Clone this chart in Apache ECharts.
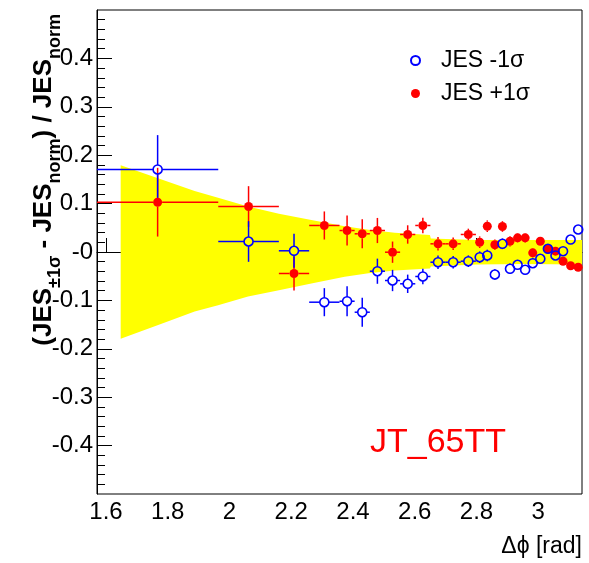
<!DOCTYPE html>
<html>
<head>
<meta charset="utf-8">
<script src="https://cdn.jsdelivr.net/npm/echarts@6/dist/echarts.min.js"></script>
<style>
  html, body { margin: 0; padding: 0; background: #fff; }
  #chart { width: 589px; height: 563px; }
</style>
</head>
<body>
<div id="chart"></div>
<script>
// bin edges in delta-phi (rad): 4 wide bins, 9 of pi/64, 14 of pi/128
var binEdges = [1.5708, 1.9635, 2.1598, 2.2580, 2.3562,
  2.4053, 2.4544, 2.5035, 2.5525, 2.6016, 2.6507, 2.6998, 2.7489, 2.7980,
  2.8225, 2.8471, 2.8716, 2.8962, 2.9207, 2.9452, 2.9698, 2.9943, 3.0189,
  3.0434, 3.0680, 3.0925, 3.1170, 3.1416];

// (JES±1σ - JESnorm) / JESnorm per bin
var jesDown = [0.1705, 0.0217, 0.0025, -0.1037,
  -0.1017, -0.1244, -0.0397, -0.0589, -0.0657, -0.0506, -0.0211, -0.0211, -0.0190,
  -0.0107, -0.0072, -0.0465, 0.0169, -0.0347, -0.0264, -0.0368, -0.0231, -0.0140,
  0.0066, -0.0072, 0.0017, 0.0258, 0.0465];
var jesUp = [0.1029, 0.0940, -0.0444, 0.0548,
  0.0444, 0.0376, 0.0444, -0.0004, 0.0362, 0.0548, 0.0169, 0.0169, 0.0362,
  0.0202, 0.0533, 0.0149, 0.0527, 0.0223, 0.0293, 0.0293, -0.0017, 0.0223,
  0.0066, 0.0017, -0.0190, -0.0285, -0.0314];
var yErr = [0.071, 0.042, 0.035, 0.029,
  0.031, 0.030, 0.026, 0.022, 0.019, 0.016, 0.014, 0.013, 0.012,
  0.012, 0.012, 0.011, 0.011, 0.011, 0.010, 0.010, 0.010, 0.009,
  0.009, 0.009, 0.008, 0.008, 0.008];

// yellow uncertainty band
var bandX  = [1.6475, 1.78, 1.887, 1.963, 2.06, 2.16, 2.265, 2.373, 2.45, 2.535, 2.649, 2.652, 2.80, 2.95, 3.1416];
var bandHi = [0.179, 0.150, 0.126, 0.112, 0.094, 0.079, 0.066, 0.053, 0.046, 0.040, 0.035, 0.028, 0.025, 0.025, 0.025];
var bandLo = [-0.179, -0.148, -0.123, -0.110, -0.092, -0.079, -0.065, -0.051, -0.044, -0.038, -0.034, -0.030, -0.026, -0.025, -0.026];

// axis ticks
var xMajorTicks = [1.6, 1.8, 2, 2.2, 2.4, 2.6, 2.8, 3];
var xTickLabels = ['1.6', '1.8', '2', '2.2', '2.4', '2.6', '2.8', '3'];
var xMinorTicks = [1.65, 1.7, 1.75, 1.85, 1.9, 1.95, 2.05, 2.1, 2.15, 2.25, 2.3, 2.35,
  2.45, 2.5, 2.55, 2.65, 2.7, 2.75, 2.85, 2.9, 2.95, 3.05, 3.1];
var yMajorTicks = [-0.4, -0.3, -0.2, -0.1, 0, 0.1, 0.2, 0.3, 0.4];
var yTickLabels = ['-0.4', '-0.3', '-0.2', '-0.1', '-0', '0.1', '0.2', '0.3', '0.4'];
var yMinorTicks = [-0.48, -0.46, -0.44, -0.42, -0.38, -0.36, -0.34, -0.32, -0.28, -0.26,
  -0.24, -0.22, -0.18, -0.16, -0.14, -0.12, -0.08, -0.06, -0.04, -0.02, 0.02, 0.04,
  0.06, 0.08, 0.12, 0.14, 0.16, 0.18, 0.22, 0.24, 0.26, 0.28, 0.32, 0.34, 0.36, 0.38,
  0.42, 0.44, 0.46, 0.48];

var FONT = '"Liberation Sans", Arial, Helvetica, sans-serif';

(function () {
  var myChart = echarts.init(document.getElementById('chart'));

  function points(vals) {
    return vals.map(function (v, i) {
      return [(binEdges[i] + binEdges[i + 1]) / 2, v];
    });
  }

  // error bars: horizontal = bin width, vertical = ±err, left open round the marker
  function errorBars(vals, color) {
    var gap = 4.5;
    var data = vals.map(function (v, i) {
      return [(binEdges[i] + binEdges[i + 1]) / 2, v, binEdges[i], binEdges[i + 1], yErr[i]];
    });
    return {
      type: 'custom',
      silent: true,
      clip: true,
      z: 3,
      data: data,
      renderItem: function (params, api) {
        var y = api.value(1), e = api.value(4);
        var c = api.coord([api.value(0), y]);
        var l = api.coord([api.value(2), y]);
        var r = api.coord([api.value(3), y]);
        var t = api.coord([api.value(0), y + e]);
        var b = api.coord([api.value(0), y - e]);
        var st = { stroke: color, lineWidth: 1.5 };
        var kids = [];
        if (c[0] - gap > l[0]) kids.push({ type: 'line', shape: { x1: l[0], y1: c[1], x2: c[0] - gap, y2: c[1] }, style: st });
        if (r[0] > c[0] + gap) kids.push({ type: 'line', shape: { x1: c[0] + gap, y1: c[1], x2: r[0], y2: c[1] }, style: st });
        if (c[1] - gap > t[1]) kids.push({ type: 'line', shape: { x1: c[0], y1: t[1], x2: c[0], y2: c[1] - gap }, style: st });
        if (b[1] > c[1] + gap) kids.push({ type: 'line', shape: { x1: c[0], y1: c[1] + gap, x2: c[0], y2: b[1] }, style: st });
        return { type: 'group', children: kids };
      }
    };
  }

  // minor tick axis (no line, no visible labels)
  function minorAxis(pos, min, max, ticks, len) {
    return {
      type: 'value', position: pos, min: min, max: max,
      axisLine: { show: false },
      axisTick: { show: true, inside: true, length: len, customValues: ticks, lineStyle: { color: '#000' } },
      axisLabel: { show: true, customValues: ticks, formatter: function () { return ''; } },
      splitLine: { show: false }
    };
  }

  var option = {
    animation: false,
    grid: {
      left: 97, right: 7, top: 10, bottom: 69,
      show: true, borderColor: '#000', borderWidth: 1, backgroundColor: 'transparent'
    },
    legend: {
      orient: 'vertical',
      left: 405, top: 44,
      itemGap: 10, itemWidth: 9, itemHeight: 9,
      textStyle: { fontFamily: FONT, fontSize: 23, color: '#000', padding: [0, 0, 0, 16] },
      data: ['JES -1σ', 'JES +1σ']
    },
    xAxis: [{
      type: 'value', position: 'bottom', min: 1.5708, max: 3.1416,
      axisLine: { show: true, lineStyle: { color: '#000', width: 1 } },
      axisTick: { show: true, inside: true, length: 14, customValues: xMajorTicks, lineStyle: { color: '#000' } },
      axisLabel: {
        customValues: xMajorTicks, margin: 6, color: '#000', fontFamily: FONT, fontSize: 24,
        formatter: function (v) { return xTickLabels[xMajorTicks.indexOf(v)]; }
      },
      splitLine: { show: false }
    }, minorAxis('bottom', 1.5708, 3.1416, xMinorTicks, 7)],
    yAxis: [{
      type: 'value', position: 'left', min: -0.5, max: 0.5,
      axisLine: { show: true, lineStyle: { color: '#000', width: 1 } },
      axisTick: { show: true, inside: true, length: 15, customValues: yMajorTicks, lineStyle: { color: '#000' } },
      axisLabel: {
        customValues: yMajorTicks, margin: 4, color: '#000', fontFamily: FONT, fontSize: 24,
        formatter: function (v) { return yTickLabels[yMajorTicks.indexOf(v)]; }
      },
      splitLine: { show: false }
    }, minorAxis('left', -0.5, 0.5, yMinorTicks, 8)],
    graphic: [
      {
        type: 'text', x: 44, y: 14, rotation: Math.PI / 2,
        style: {
          text: '{b|(JES}{s|±1σ}{b| - JES}{s|norm}{b|) / JES}{s|norm}',
          align: 'right', verticalAlign: 'middle',
          rich: {
            b: { fontFamily: FONT, fontSize: 26, fontWeight: 'bold', fill: '#000', lineHeight: 40, verticalAlign: 'middle' },
            s: { fontFamily: FONT, fontSize: 18, fontWeight: 'bold', fill: '#000', verticalAlign: 'bottom' }
          }
        }
      },
      {
        type: 'text', right: 7, top: 535,
        style: { text: 'Δϕ [rad]', fill: '#000', font: '23px ' + FONT }
      },
      {
        type: 'text', left: 370, top: 426,
        style: { text: 'JT_65TT', fill: '#ff0000', font: '34px ' + FONT }
      }
    ],
    series: [
      {
        type: 'custom',
        silent: true,
        z: 1,
        data: bandX.map(function (x, i) { return [x, bandLo[i], bandHi[i]]; }),
        renderItem: function (params, api) {
          if (params.dataIndex !== 0) return;
          var pts = [], i;
          for (i = 0; i < bandX.length; i++) pts.push(api.coord([bandX[i], bandHi[i]]));
          for (i = bandX.length - 1; i >= 0; i--) pts.push(api.coord([bandX[i], bandLo[i]]));
          return { type: 'polygon', shape: { points: pts }, style: { fill: '#ffff00' } };
        }
      },
      errorBars(jesUp, '#ff0000'),
      errorBars(jesDown, '#0000ff'),
      {
        name: 'JES +1σ',
        type: 'scatter',
        symbol: 'circle',
        symbolSize: 9,
        z: 4,
        itemStyle: { color: '#ff0000', opacity: 1 },
        data: points(jesUp)
      },
      {
        name: 'JES -1σ',
        type: 'scatter',
        symbol: 'circle',
        symbolSize: 9,
        z: 5,
        itemStyle: { color: 'rgba(0,0,0,0)', borderColor: '#0000ff', borderWidth: 1.6, opacity: 1 },
        data: points(jesDown)
      }
    ]
  };

  myChart.setOption(option);
  window.addEventListener('resize', function () {
    myChart.resize();
  });
})();
</script>
</body>
</html>
